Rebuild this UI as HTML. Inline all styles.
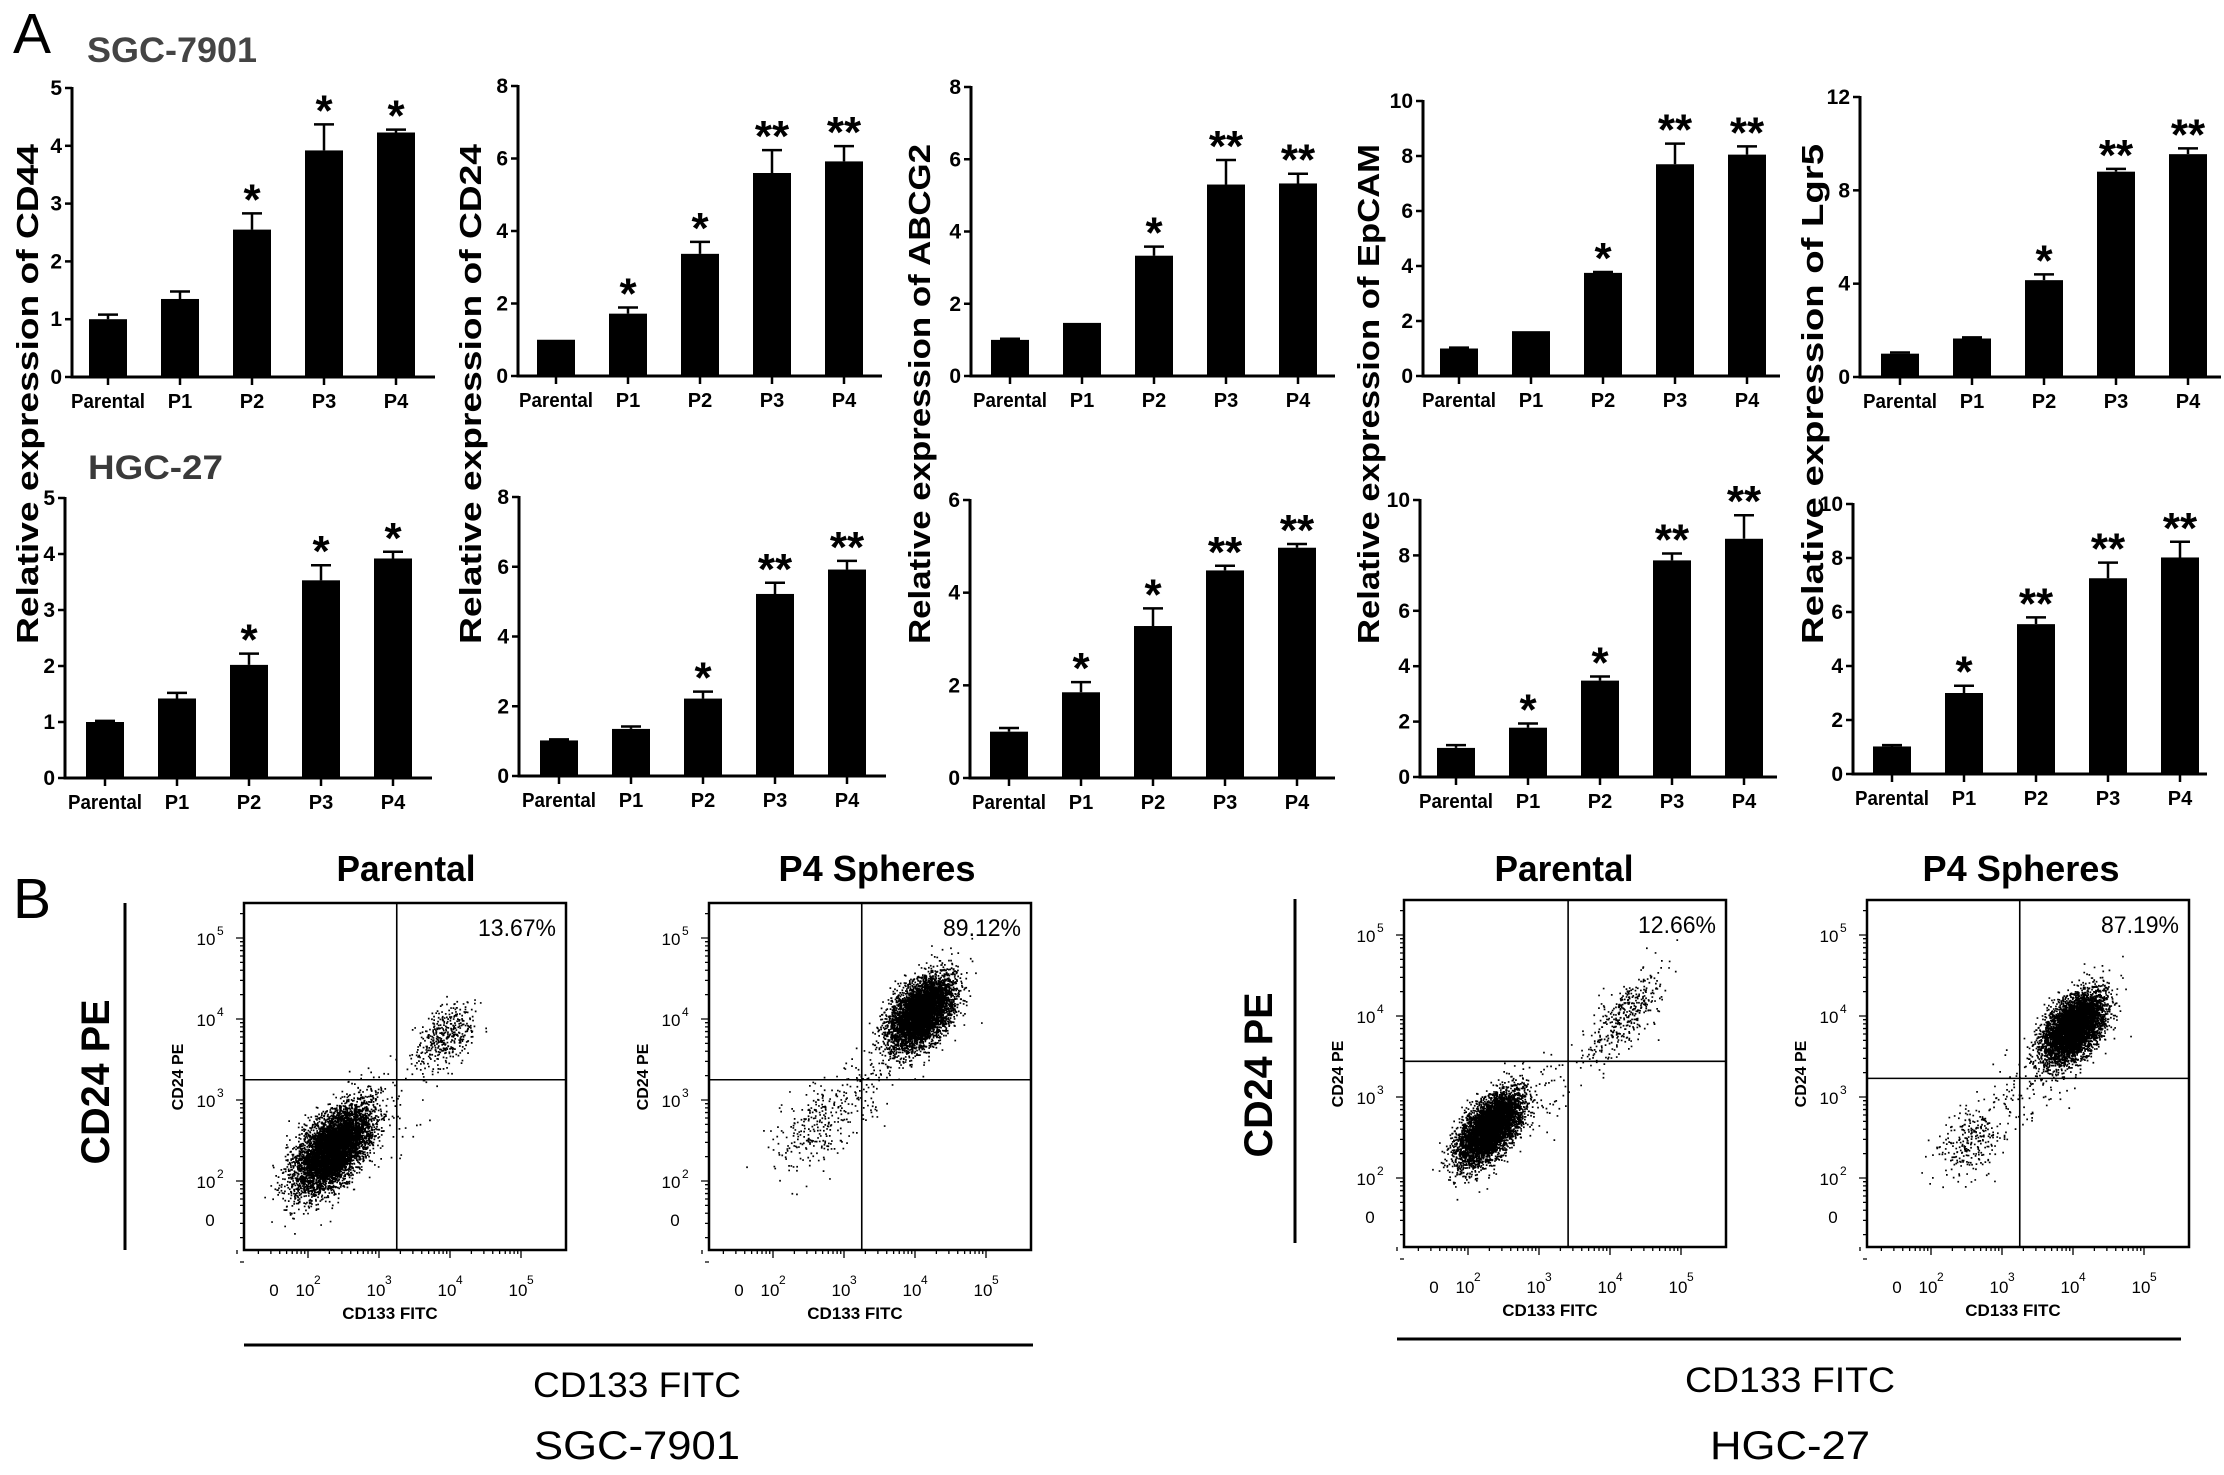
<!DOCTYPE html>
<html><head><meta charset="utf-8"><title>Relative expression of stem cell markers and CD24/CD133 flow cytometry</title>
<style>
html,body{margin:0;padding:0;background:#fff;}
svg{display:block;}
text{font-family:"Liberation Sans",sans-serif;}
.nar{font-family:"Liberation Sans Narrow","Liberation Sans",sans-serif;}
</style></head>
<body>
<svg id="fig" xmlns="http://www.w3.org/2000/svg" width="2224" height="1475" viewBox="0 0 2224 1475">
<rect x="0" y="0" width="2224" height="1475" fill="#fff"/>
<text x="13" y="53" font-size="57">A</text>
<text x="87" y="62" font-size="35" font-weight="bold" fill="#444" textLength="170" lengthAdjust="spacingAndGlyphs">SGC-7901</text>
<text x="88" y="479" font-size="34" fill="#3a3a3a" font-weight="bold" class="nar" textLength="135" lengthAdjust="spacingAndGlyphs">HGC-27</text>
<text x="13" y="918" font-size="57">B</text>
<g id="bars"></g>
<g id="flow"></g>
<line x1="125" y1="903" x2="125" y2="1250" stroke="#000" stroke-width="3"/>
<text transform="translate(109,1082) rotate(-90)" text-anchor="middle" font-size="40" font-weight="bold" textLength="165" lengthAdjust="spacingAndGlyphs">CD24 PE</text>
<line x1="244" y1="1345" x2="1033" y2="1345" stroke="#000" stroke-width="3"/>
<text x="637" y="1397" text-anchor="middle" font-size="35" class="nar" textLength="208" lengthAdjust="spacingAndGlyphs">CD133 FITC</text>
<text x="637" y="1459" text-anchor="middle" font-size="40" class="nar" textLength="206" lengthAdjust="spacingAndGlyphs">SGC-7901</text>
<text x="406" y="881" text-anchor="middle" font-size="36" font-weight="bold" class="nar" textLength="139" lengthAdjust="spacingAndGlyphs">Parental</text>
<text x="877" y="881" text-anchor="middle" font-size="36" font-weight="bold" class="nar" textLength="197" lengthAdjust="spacingAndGlyphs">P4 Spheres</text>

<line x1="1295" y1="899" x2="1295" y2="1243" stroke="#000" stroke-width="3"/>
<text transform="translate(1272,1075) rotate(-90)" text-anchor="middle" font-size="40" font-weight="bold" textLength="165" lengthAdjust="spacingAndGlyphs">CD24 PE</text>
<line x1="1397" y1="1339" x2="2181" y2="1339" stroke="#000" stroke-width="3"/>
<text x="1790" y="1392" text-anchor="middle" font-size="35" class="nar" textLength="210" lengthAdjust="spacingAndGlyphs">CD133 FITC</text>
<text x="1790" y="1459" text-anchor="middle" font-size="40" class="nar" textLength="160" lengthAdjust="spacingAndGlyphs">HGC-27</text>
<text x="1564" y="881" text-anchor="middle" font-size="36" font-weight="bold" class="nar" textLength="139" lengthAdjust="spacingAndGlyphs">Parental</text>
<text x="2021" y="881" text-anchor="middle" font-size="36" font-weight="bold" class="nar" textLength="197" lengthAdjust="spacingAndGlyphs">P4 Spheres</text>
</svg>
<script>
// ---------- bar chart data ----------
const categories = ['Parental','P1','P2','P3','P4'];
const markers = ['CD44','CD24','ABCG2','EpCAM','Lgr5'];
// SGC-7901 (top row)
const sgcCD44 = [1.0,1.35,2.55,3.92,4.23];
const sgcCD44Err = [0.08,0.13,0.28,0.45,0.05];
const sgcCD44Stars = ['','','*','*','*'];
const sgcCD24 = [1.0,1.72,3.37,5.6,5.92];
const sgcCD24Err = [0,0.17,0.33,0.63,0.42];
const sgcCD24Stars = ['','*','*','**','**'];
const sgcABCG2 = [1.0,1.47,3.33,5.3,5.33];
const sgcABCG2Err = [0.03,0,0.25,0.68,0.27];
const sgcABCG2Stars = ['','','*','**','**'];
const sgcEpCAM = [1.0,1.63,3.75,7.7,8.05];
const sgcEpCAMErr = [0.03,0,0.03,0.75,0.3];
const sgcEpCAMStars = ['','','*','**','**'];
const sgcLgr5 = [1.0,1.65,4.15,8.8,9.55];
const sgcLgr5Err = [0.05,0.05,0.25,0.12,0.25];
const sgcLgr5Stars = ['','','*','**','**'];
// HGC-27 (bottom row)
const hgcCD44 = [1.0,1.42,2.02,3.53,3.92];
const hgcCD44Err = [0.02,0.1,0.2,0.27,0.12];
const hgcCD44Stars = ['','','*','*','*'];
const hgcCD24 = [1.02,1.35,2.22,5.22,5.92];
const hgcCD24Err = [0.03,0.07,0.2,0.32,0.25];
const hgcCD24Stars = ['','','*','**','**'];
const hgcABCG2 = [1.0,1.85,3.28,4.48,4.97];
const hgcABCG2Err = [0.08,0.22,0.38,0.1,0.08];
const hgcABCG2Stars = ['','*','*','**','**'];
const hgcEpCAM = [1.05,1.78,3.48,7.82,8.6];
const hgcEpCAMErr = [0.1,0.15,0.15,0.25,0.85];
const hgcEpCAMStars = ['','*','*','**','**'];
const hgcLgr5 = [1.02,3.0,5.55,7.25,8.02];
const hgcLgr5Err = [0.05,0.27,0.25,0.58,0.58];
const hgcLgr5Stars = ['','*','**','**','**'];
// axis ranges
const sgcYMax = [5,8,8,10,12];
const sgcYStep = [1,2,2,2,4];
const hgcYMax = [5,8,6,10,10];
const hgcYStep = [1,2,2,2,2];

// ---------- flow data (log10 units) ----------
const flowPercents = ['13.67%','89.12%','12.66%','87.19%'];
const flowQuadX = [3.25,3.25,3.41,3.25];
const flowQuadY = [3.25,3.25,3.44,3.23];
const flowClusterCx = [[2.34,3.92,3.1],[4.08,2.56,3.3],[2.3,4.2,3.0],[4.0,2.55,3.3]];
const flowClusterCy = [[2.4,3.78,2.9],[4.08,2.65,3.2],[2.62,4.0,2.9],[3.86,2.47,3.1]];
const flowClusterMajor = [[0.33,0.24,0.4],[0.27,0.3,0.35],[0.28,0.36,0.35],[0.26,0.28,0.35]];
const flowClusterMinor = [[0.17,0.15,0.25],[0.16,0.22,0.22],[0.14,0.15,0.18],[0.15,0.18,0.22]];
const flowClusterN = [[6000,400,80],[5500,250,120],[5500,380,60],[5500,280,90]];

const NS='http://www.w3.org/2000/svg';
function mk(tag, attrs, parent){
  const e=document.createElementNS(NS,tag);
  for(const k in attrs) e.setAttribute(k, attrs[k]);
  parent.appendChild(e);
  return e;
}

const topLayout = [
  {ax:72,y0:377,yt:88,x0:108,end:435,tx:27},
  {ax:518,y0:376,yt:86,x0:556,end:882,tx:470},
  {ax:971,y0:376,yt:87,x0:1010,end:1335,tx:919},
  {ax:1423,y0:376,yt:101,x0:1459,end:1780,tx:1368},
  {ax:1860,y0:377,yt:97,x0:1900,end:2221,tx:1812}
];
const botLayout = [
  {ax:65,y0:778,yt:498,x0:105,end:432},
  {ax:519,y0:776,yt:497,x0:559,end:886},
  {ax:970,y0:778,yt:500,x0:1009,end:1335},
  {ax:1420,y0:777,yt:500,x0:1456,end:1777},
  {ax:1853,y0:774,yt:504,x0:1892,end:2207}
];
const STEP=72, BW=38;

const barsG=document.getElementById('bars');
function drawBar(L, vals, errs, stars, yMax, yStep, key){
  const g=mk('g',{},barsG);
  
  
  const y=v=>L.y0 - v/yMax*(L.y0-L.yt);
  const yAxis=mk('line',{x1:L.ax,y1:L.yt-1,x2:L.ax,y2:L.y0+1.5,stroke:'#000','stroke-width':3},g);
  
  
  const xAxis=mk('line',{x1:L.ax-1.5,y1:L.y0,x2:L.end,y2:L.y0,stroke:'#000','stroke-width':3},g);
  
  
  for(let t=0;t<=yMax+1e-9;t+=yStep){
    const tk=mk('line',{x1:L.ax-7,y1:y(t),x2:L.ax,y2:y(t),stroke:'#000','stroke-width':2.5},g);
    
    
    const tl=mk('text',{x:L.ax-10,y:y(t)+7,'text-anchor':'end','font-size':21,'font-weight':'bold',class:'nar'},g);
    
    
    tl.textContent=String(t);
  }
  vals.forEach((v,i)=>{
    const cx=L.x0+i*STEP;
    const b=mk('rect',{x:cx-BW/2,y:y(v),width:BW,height:L.y0-y(v),fill:'#000'},g);
    
    
    const top=y(v+errs[i]);
    if(errs[i]>0){
      const eb=mk('path',{d:`M${cx} ${y(v)}V${top}M${cx-10} ${top}H${cx+10}`,stroke:'#000','stroke-width':2.5,fill:'none'},g);
      
      
    }
    if(stars[i]){
      const s=mk('text',{x:cx,y:top+1,'text-anchor':'middle','font-size':44,'font-weight':'bold'},g);
      
      
      s.textContent=stars[i];
    }
    const xt=mk('line',{x1:cx,y1:L.y0,x2:cx,y2:L.y0+8,stroke:'#000','stroke-width':2.5},g);
    
    
    const attrs={x:cx,y:L.y0+31,'text-anchor':'middle','font-size':20,'font-weight':'bold',class:'nar'};
    if(i===0){attrs.textLength=74;attrs.lengthAdjust='spacingAndGlyphs';}
    const cl=mk('text',attrs,g);
    
    
    cl.textContent=categories[i];
  });
}
const sgcSets=[[sgcCD44,sgcCD44Err,sgcCD44Stars],[sgcCD24,sgcCD24Err,sgcCD24Stars],[sgcABCG2,sgcABCG2Err,sgcABCG2Stars],[sgcEpCAM,sgcEpCAMErr,sgcEpCAMStars],[sgcLgr5,sgcLgr5Err,sgcLgr5Stars]];
const hgcSets=[[hgcCD44,hgcCD44Err,hgcCD44Stars],[hgcCD24,hgcCD24Err,hgcCD24Stars],[hgcABCG2,hgcABCG2Err,hgcABCG2Stars],[hgcEpCAM,hgcEpCAMErr,hgcEpCAMStars],[hgcLgr5,hgcLgr5Err,hgcLgr5Stars]];
for(let c=0;c<5;c++){
  drawBar(topLayout[c],sgcSets[c][0],sgcSets[c][1],sgcSets[c][2],sgcYMax[c],sgcYStep[c],'sgc-'+markers[c].toLowerCase());
  drawBar(botLayout[c],hgcSets[c][0],hgcSets[c][1],hgcSets[c][2],hgcYMax[c],hgcYStep[c],'hgc-'+markers[c].toLowerCase());
  const yt=mk('text',{transform:`translate(${topLayout[c].tx+11},394) rotate(-90)`,'text-anchor':'middle','font-size':31,'font-weight':'bold',textLength:500,lengthAdjust:'spacingAndGlyphs'},barsG);
  
  
  yt.textContent='Relative expression of '+markers[c];
}

// ---------- flow plots ----------
const flowG=document.getElementById('flow');
const flowBoxes=[{L:244,T:903},{L:709,T:903},{L:1404,T:900},{L:1867,T:900}];
const PW=322, PH=347;
let seed=12345;
function rnd(){seed=(seed*1103515245+12345)&0x7fffffff;return seed/0x7fffffff;}
function gauss(){let u=0,v=0;while(u===0)u=rnd();v=rnd();return Math.sqrt(-2*Math.log(u))*Math.cos(2*Math.PI*v);}
flowBoxes.forEach((B,p)=>{
  const g=mk('g',{},flowG);
  
  
  const X=lx=>B.L+64+(lx-2)*71;
  const Y=ly=>B.T+278-(ly-2)*81;
  let d='';
  for(let c=0;c<3;c++){
    const n=flowClusterN[p][c];
    for(let k=0;k<n;k++){
      const u=gauss()*flowClusterMajor[p][c], v=gauss()*flowClusterMinor[p][c];
      const lx=flowClusterCx[p][c]+(u+v)*0.7071, ly=flowClusterCy[p][c]+(u-v)*0.7071;
      const px=X(lx), py=Y(ly);
      if(px<B.L+2||px>B.L+PW-2||py<B.T+2||py>B.T+PH-2) continue;
      d+=`M${px.toFixed(1)} ${py.toFixed(1)}h1.7v1.7h-1.7z`;
    }
  }
  const dots=mk('path',{d:d,fill:'#000'},g);
  
  
  const box=mk('rect',{x:B.L,y:B.T,width:PW,height:PH,fill:'none',stroke:'#000','stroke-width':2.5},g);
  
  
  const ql=mk('path',{d:`M${X(flowQuadX[p])} ${B.T}V${B.T+PH}M${B.L} ${Y(flowQuadY[p])}H${B.L+PW}`,stroke:'#000','stroke-width':1.6,fill:'none'},g);
  
  
  const pc=mk('text',{x:B.L+312,y:B.T+33,'text-anchor':'end','font-size':24,class:'nar',textLength:78,lengthAdjust:'spacingAndGlyphs'},g);
  
  
  pc.textContent=flowPercents[p];
  let td='';
  for(let dec=2;dec<=5;dec++){
    td+=`M${B.L} ${Y(dec)}h-8M${X(dec)} ${B.T+PH}v8`;
    if(dec<5) for(let m=2;m<=9;m++){const l=dec+Math.log10(m);td+=`M${B.L} ${Y(l)}h-4M${X(l)} ${B.T+PH}v4`;}
  }
  for(let m=1;m<=9;m++){const l=1+Math.log10(m);td+=`M${B.L} ${Y(l)}h-4M${X(l)} ${B.T+PH}v4`;}
  for(let m=2;m<=4;m++){const l=5+Math.log10(m);if(Y(l)>B.T) td+=`M${B.L} ${Y(l)}h-4`;}
  const ticks=mk('path',{d:td,stroke:'#000','stroke-width':1.3,fill:'none'},g);
  
  
  const yl=mk('text',{x:B.L-34,y:B.T+323,'text-anchor':'middle','font-size':17,class:'nar'},g);
  
  
  yl.textContent='0';
  const xl=mk('text',{x:B.L+30,y:B.T+393,'text-anchor':'middle','font-size':17,class:'nar'},g);
  
  
  xl.textContent='0';
  for(let dec=2;dec<=5;dec++){
    const a=mk('text',{x:B.L-38,y:Y(dec)+7,'text-anchor':'middle','font-size':17,class:'nar'},g);
    
    
    a.textContent='10';
    const ae=mk('text',{x:B.L-27,y:Y(dec)-3,'font-size':12,class:'nar'},g);
    
    
    ae.textContent=String(dec);
    const b=mk('text',{x:X(dec)-3,y:B.T+393,'text-anchor':'middle','font-size':17,class:'nar'},g);
    
    
    b.textContent='10';
    const be=mk('text',{x:X(dec)+6,y:B.T+381,'font-size':12,class:'nar'},g);
    
    
    be.textContent=String(dec);
  }
  const sy=mk('text',{transform:`translate(${B.L-61},${B.T+174}) rotate(-90)`,'text-anchor':'middle','font-size':16,'font-weight':'bold'},g);
  
  
  sy.textContent='CD24 PE';
  const sx=mk('text',{x:B.L+146,y:B.T+416,'text-anchor':'middle','font-size':17,'font-weight':'bold',class:'nar'},g);
  
  
  sx.textContent='CD133 FITC';
});
</script>
</body></html>
